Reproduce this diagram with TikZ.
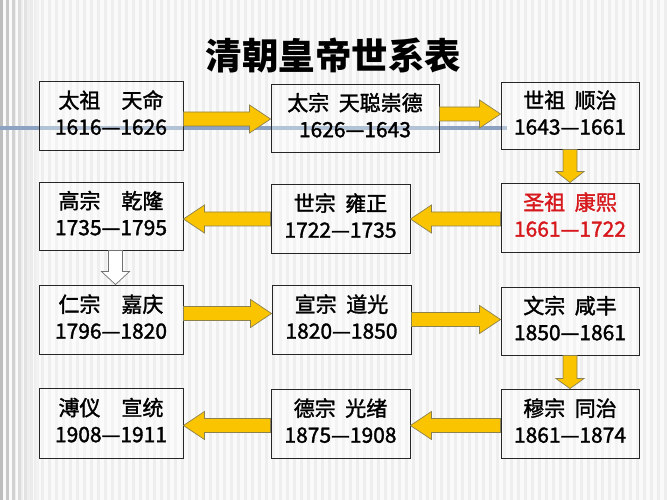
\documentclass[tikz,border=0pt]{standalone}
\usepackage{fontspec}
\setmainfont{Noto Sans CJK SC}
\newfontfamily\cjkbox[FakeBold=1.6]{Noto Sans CJK SC}
\usetikzlibrary{calc}
\pgfdeclarelayer{bg}
\pgfsetlayers{bg,main}
\definecolor{bggray}{RGB}{238,238,238}
\definecolor{stripe}{RGB}{250,250,250}
\definecolor{lineblue}{RGB}{140,162,192}
\definecolor{gold}{RGB}{250,196,0}
\definecolor{goldedge}{RGB}{140,130,80}
\definecolor{redtext}{RGB}{215,25,30}
\newcommand\hs{\hspace{0.45em}}
\newcommand\fs{\hspace{1em}}
\newcommand\dep{\rule[-6pt]{0pt}{6pt}}
% right block arrow: #2 start (shaft end), #3 tip
\newcommand\rarrow[3][]{\draw[yarrow,#1] let \p1=(#2), \p2=(#3) in
  (\x1,\y2+7pt) -- (\x2-21pt,\y2+7pt) -- (\x2-21pt,\y2+14pt) -- (\p2)
  -- (\x2-21pt,\y2-14pt) -- (\x2-21pt,\y2-7pt) -- (\x1,\y2-7pt) -- cycle;}
\newcommand\larrow[3][]{\draw[yarrow,#1] let \p1=(#2), \p2=(#3) in
  (\x1,\y2+7pt) -- (\x2+21pt,\y2+7pt) -- (\x2+21pt,\y2+14pt) -- (\p2)
  -- (\x2+21pt,\y2-14pt) -- (\x2+21pt,\y2-7pt) -- (\x1,\y2-7pt) -- cycle;}
\newcommand\darrow[4][]{\draw[yarrow,#1] let \p1=(#2), \p2=(#3) in
  (\x2-7pt,\y1) -- (\x2-7pt,\y2+#4) -- (\x2-14pt,\y2+#4) -- (\p2)
  -- (\x2+14pt,\y2+#4) -- (\x2+7pt,\y2+#4) -- (\x2+7pt,\y1) -- cycle;}
\tikzset{
  box/.style={draw=black!85, line width=0.9pt, fill=white, fill opacity=0.35,
    text opacity=1, inner sep=0pt, align=center,
    font=\cjkbox\fontsize{21}{26.5}\selectfont},
  col1/.style={minimum width=144pt},
  col2/.style={minimum width=139pt},
  col3/.style={minimum width=138pt},
  yarrow/.style={fill=gold, draw=goldedge, line width=0.7pt, line join=miter},
  warrow/.style={fill=white, draw=black!55},
  title/.style={font=\fontsize{36.5}{40}\selectfont\bfseries, text=black},
  blueline/.style={draw=lineblue, line width=4.5pt}
}
\begin{document}
\begin{tikzpicture}[x=1pt,y=1pt]
\useasboundingbox (0,0) rectangle (667,500);
% boxes
\node[box,col1,minimum height=69pt] (b1) at (111,384.5) {太祖\fs 天命\\1616—1626\dep};
\node[box,minimum width=168pt,minimum height=68pt] (b2) at (355,382) {太宗\hs 天聪崇德\\1626—1643\dep};
\node[box,col3,minimum height=67pt] (b3) at (570,384.5) {世祖\hs 顺治\\1643—1661\dep};
\node[box,col3,minimum height=69pt,text=redtext] (b4) at (570,282.5) {圣祖\hs 康熙\\1661—1722\dep};
\node[box,col2,minimum height=69pt] (b5) at (340.5,281.5) {世宗\hs 雍正\\1722—1735\dep};
\node[box,col1,minimum height=68pt] (b6) at (111,284) {高宗\fs 乾隆\\1735—1795\dep};
\node[box,col1,minimum height=69pt] (b7) at (111,180.5) {仁宗\fs 嘉庆\\1796—1820\dep};
\node[box,col2,minimum height=69pt] (b8) at (341.5,180.5) {宣宗\hs 道光\\1820—1850\dep};
\node[box,col3,minimum height=68pt] (b9) at (570,179) {文宗\hs 咸丰\\1850—1861\dep};
\node[box,col3,minimum height=69pt] (b10) at (570,76.5) {穆宗\hs 同治\\1861—1874\dep};
\node[box,col2,minimum height=69pt] (b11) at (340.5,76.5) {德宗\hs 光绪\\1875—1908\dep};
\node[box,col1,minimum height=70pt] (b12) at (111,77) {溥仪\fs 宣统\\1908—1911\dep};
% title
\node[title] (title) at (333.5,445) {清朝皇帝世系表};
% arrows
\rarrow{b1.east}{$(b2.west)+(0,-1)$}
\rarrow[]{b2.east}{$(b3.west)+(0,1.5)$}
\darrow{b3.south}{b4.north}{11pt}
\larrow{b4.west}{$(b5.east)+(0,-0.5)$}
\larrow{b5.west}{$(b6.east)+(0,-3)$}
\darrow[warrow]{$(b6.south)+(4.5,0)$}{$(b7.north)+(4.5,0)$}{13pt}
\rarrow{b7.east}{$(b8.west)+(0,6)$}
\rarrow{b8.east}{$(b9.west)+(0,1.5)$}
\darrow{b9.south}{b10.north}{10pt}
\larrow{b10.west}{$(b11.east)+(0,-2)$}
\larrow{b11.west}{$(b12.east)+(0,-2.5)$}
% background layer
\begin{pgfonlayer}{bg}
\fill[bggray] (0,0) rectangle (667,500);
\foreach \i in {0,...,95} \fill[stripe] (\i*7+2,0) rectangle ++(3.5,500);
\foreach \x/\c in {0/26,6/22,12/18,18/14,24/11,30/8,36/5}
  \fill[black!\c] (\x,0) rectangle ++(2.5,500);
\coordinate (lstart) at (0,372);
\draw[blueline] (lstart) -- ($(b3.west)+(6,-12.5)$);
\end{pgfonlayer}
\end{tikzpicture}
\end{document}
